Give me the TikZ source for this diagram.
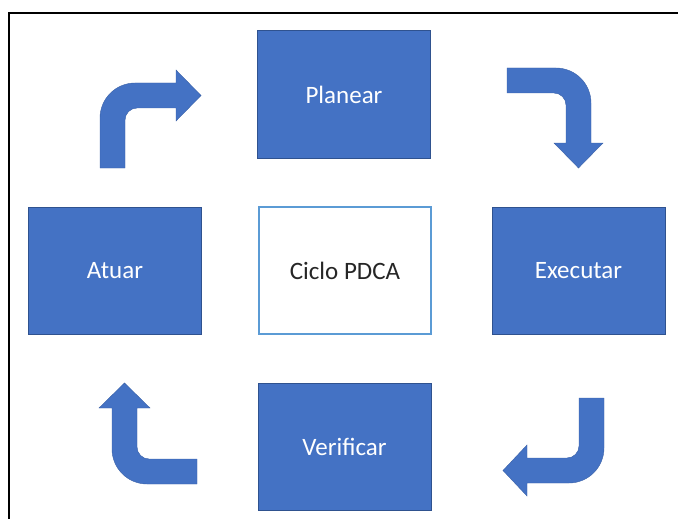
\documentclass[tikz,border=0pt]{standalone}
\usepackage{fontspec}
\setmainfont{Carlito}
\definecolor{offblue}{HTML}{4472C4}
\definecolor{offedge}{HTML}{2F528F}
\definecolor{lightedge}{HTML}{5B9BD5}
\definecolor{txtdark}{HTML}{262626}
\tikzset{
  pbox/.style={draw=offedge, line width=1pt, fill=offblue, minimum width=173pt, minimum height=127pt, inner sep=0pt, text=white, font=\fontsize{25}{30}\selectfont},
  cbox/.style={draw=lightedge, line width=1.2pt, fill=white, minimum width=172pt, minimum height=127pt, inner sep=0pt, text=txtdark, font=\fontsize{25}{30}\selectfont},
  barrow/.style={fill=offblue, draw=offblue!85!black, line width=0.4pt},
  frameline/.style={line width=2pt, black}
}
\begin{document}
\begin{tikzpicture}[x=1pt,y=-1pt]
\useasboundingbox (0,0) rectangle (678,519);
% frame
\draw[frameline] (9,519) -- (9,13) -- (678,13);
% boxes
\node[pbox] (plan) at (344,94.5) {Planear};
\node[pbox] (atuar) at (115,270.5) {Atuar};
\node[cbox] (ciclo) at (345,270.5) {Ciclo PDCA};
\node[pbox] (exec) at (578.5,270.5) {Executar};
\node[pbox] (verif) at (344.5,447) {Verificar};
% top-left bent arrow (up then right)
\fill[barrow] (100,168) -- (100,118) .. controls (100,98.7) and (115.7,83) .. (135,83)
  -- (176,83) -- (176,70) -- (201,95.5) -- (176,121) -- (176,108) -- (137,108)
  .. controls (130.4,108) and (125,113.4) .. (125,120) -- (125,168) -- cycle;
% top-right bent arrow (right then down)
\fill[barrow] (507,68) -- (556,68) .. controls (575.3,68) and (591,83.7) .. (591,103)
  -- (591,143) -- (603,143) -- (578.5,168) -- (554,143) -- (566,143) -- (566,105)
  .. controls (566,98.4) and (560.6,93) .. (554,93) -- (507,93) -- cycle;
% bottom-right bent arrow (down then left)
\fill[barrow] (604,398) -- (604,448) .. controls (604,467.3) and (588.3,483) .. (569,483)
  -- (527,483) -- (527,496) -- (503,470.5) -- (527,445) -- (527,458) -- (567,458)
  .. controls (573.6,458) and (579,452.6) .. (579,446) -- (579,398) -- cycle;
% bottom-left bent arrow (left then up)
\fill[barrow] (197,484) -- (147,484) .. controls (127.7,484) and (112,468.3) .. (112,449)
  -- (112,408) -- (99,408) -- (124.5,383) -- (150,408) -- (137,408) -- (137,447)
  .. controls (137,453.6) and (142.4,459) .. (149,459) -- (197,459) -- cycle;
\end{tikzpicture}
\end{document}
